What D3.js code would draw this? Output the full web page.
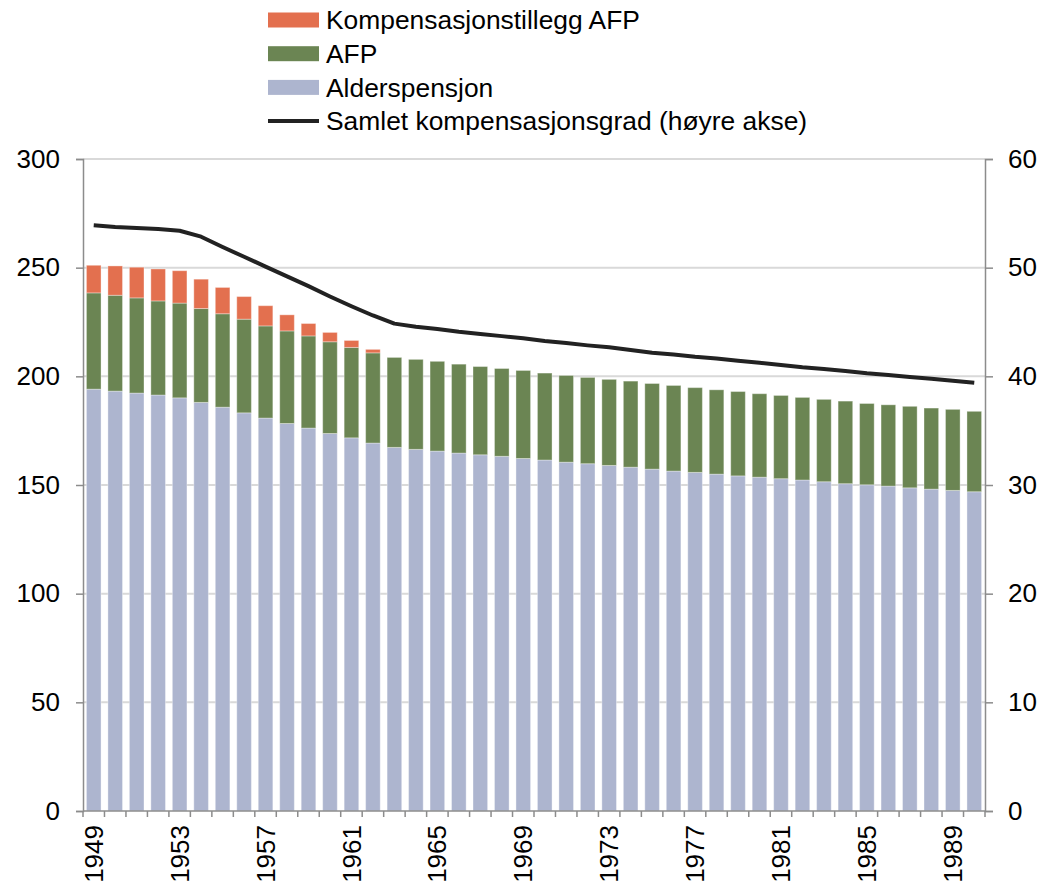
<!DOCTYPE html>
<html>
<head>
<meta charset="utf-8">
<script src="https://cdn.jsdelivr.net/npm/d3@7"></script>
<style>
  body { margin: 0; background: #fff; }
  svg { font-family: "Liberation Sans", Arial, sans-serif; }
  .axis text { font-size: 26px; fill: #000; }
  .axis path, .axis line { stroke: #8c8c8c; stroke-width: 1.5; }
</style>
</head>
<body>
<svg width="1043" height="886"></svg>
<script>
const years = d3.range(1949, 1991);
const alderspensjon = [194.1, 193.2, 192.3, 191.4, 190.1, 188.0, 185.8, 183.2, 180.8, 178.3, 176.2, 173.7, 171.7, 169.3,
  167.3, 166.4, 165.6, 164.7, 163.9, 163.2, 162.2, 161.5, 160.5, 159.8, 159.0, 158.2, 157.3, 156.4,
  155.8, 155.0, 154.2, 153.6, 152.9, 152.3, 151.5, 150.6, 150.1, 149.5, 148.7, 148.1, 147.5, 146.9];
const afp = [44.3, 44.1, 43.8, 43.3, 43.6, 43.2, 43.0, 43.1, 42.4, 42.6, 42.4, 42.2, 41.6, 41.5,
  41.4, 41.4, 41.3, 40.9, 40.6, 40.4, 40.5, 40.0, 39.9, 39.7, 39.6, 39.6, 39.4, 39.4,
  39.0, 38.8, 38.8, 38.4, 38.3, 38.0, 37.9, 38.0, 37.4, 37.4, 37.5, 37.3, 37.3, 37.0];
const kompTillegg = [12.7, 13.5, 14.1, 14.7, 14.9, 13.5, 12.1, 10.4, 9.3, 7.4, 5.7, 4.3, 3.2, 1.6,
  0, 0, 0, 0, 0, 0, 0, 0, 0, 0, 0, 0, 0, 0, 0, 0, 0, 0, 0, 0, 0, 0, 0, 0, 0, 0, 0, 0];
const kompGrad = [53.9, 53.75, 53.65, 53.55, 53.4, 52.85, 51.9, 51.0, 50.1, 49.2, 48.3, 47.35, 46.45, 45.6,
  44.85, 44.57, 44.35, 44.1, 43.9, 43.7, 43.5, 43.25, 43.07, 42.85, 42.67, 42.42, 42.17, 42.0,
  41.8, 41.65, 41.43, 41.25, 41.04, 40.83, 40.67, 40.49, 40.28, 40.12, 39.94, 39.78, 39.6, 39.41];
const leftTicks = [0, 50, 100, 150, 200, 250, 300];
const rightTicks = [0, 10, 20, 30, 40, 50, 60];
const yearLabels = years.filter(y => (y - 1949) % 4 === 0);

const svg = d3.select("svg");
const margin = { top: 159, right: 58, bottom: 75, left: 83 };
const width = +svg.attr("width") - margin.left - margin.right;
const height = +svg.attr("height") - margin.top - margin.bottom;
const g = svg.append("g").attr("transform", `translate(${margin.left},${margin.top})`);

const x = d3.scaleBand().domain(years).range([0, width]).paddingInner(0.32).paddingOuter(0.16);
const xTicks = d3.scaleBand().domain(years).range([0, width]);
const y = d3.scaleLinear().domain([0, 300]).range([height, 0]);
const y2 = d3.scaleLinear().domain([0, 60]).range([height, 0]);

const keys = ["alder", "afp", "komp"];
const color = { alder: "#adb5cf", afp: "#6b8553", komp: "#e3704f" };
const rows = years.map((yr, i) => ({ year: yr, alder: alderspensjon[i], afp: afp[i], komp: kompTillegg[i] }));
const stacked = d3.stack().keys(keys)(rows);

// gridlines
g.append("g").selectAll("line").data(leftTicks.filter(d => d > 0)).join("line")
  .attr("x1", 0).attr("x2", width)
  .attr("y1", d => y(d)).attr("y2", d => y(d))
  .attr("stroke", "#d9d9d9").attr("stroke-width", 2);

// bars
g.append("g").selectAll("g").data(stacked).join("g")
  .attr("fill", d => color[d.key])
  .selectAll("rect").data(d => d).join("rect")
  .attr("x", d => x(d.data.year))
  .attr("width", x.bandwidth())
  .attr("y", d => y(d[1]))
  .attr("height", d => Math.max(0, y(d[0]) - y(d[1])))
  .attr("stroke", "#ffffff").attr("stroke-opacity", 0.35).attr("stroke-width", 1);

// line
const line = d3.line().x((d, i) => x(years[i]) + x.bandwidth() / 2).y(d => y2(d));
g.append("path").datum(kompGrad)
  .attr("fill", "none").attr("stroke", "#222").attr("stroke-width", 4)
  .attr("stroke-linejoin", "round")
  .attr("d", line);

// axes
g.append("g").attr("class", "axis")
  .call(d3.axisLeft(y).tickValues(leftTicks).tickSize(7).tickSizeOuter(7).tickPadding(16));
g.append("g").attr("class", "axis").attr("transform", `translate(${width},0)`)
  .call(d3.axisRight(y2).tickValues(rightTicks).tickSize(8).tickSizeOuter(8).tickPadding(15));

const xAxis = g.append("g").attr("class", "axis").attr("transform", `translate(0,${height})`);
xAxis.append("line").attr("x1", 0).attr("x2", width).attr("y1", 0).attr("y2", 0)
  .attr("stroke", "#8c8c8c").attr("stroke-width", 1.5);
xAxis.selectAll(".tk").data(years.concat([1991])).join("line").attr("class", "tk")
  .attr("x1", (d, i) => i * xTicks.step()).attr("x2", (d, i) => i * xTicks.step())
  .attr("y1", 0).attr("y2", 6)
  .attr("stroke", "#8c8c8c").attr("stroke-width", 1.5);
xAxis.selectAll("text").data(yearLabels).join("text")
  .attr("transform", d => `translate(${x(d) + x.bandwidth() / 2},14) rotate(-90)`)
  .attr("text-anchor", "end").attr("dy", "0.35em")
  .text(d => d);

// legend
const legendItems = [
  { label: "Kompensasjonstillegg AFP", type: "rect", color: color.komp },
  { label: "AFP", type: "rect", color: color.afp },
  { label: "Alderspensjon", type: "rect", color: color.alder },
  { label: "Samlet kompensasjonsgrad (høyre akse)", type: "line", color: "#222" }
];
const legend = svg.append("g").attr("transform", "translate(268,20)");
const li = legend.selectAll("g").data(legendItems).join("g")
  .attr("transform", (d, i) => `translate(0,${i * 33.7})`);
li.filter(d => d.type === "rect").append("rect")
  .attr("x", 0).attr("y", -7.5).attr("width", 51).attr("height", 15).attr("fill", d => d.color);
li.filter(d => d.type === "line").append("line")
  .attr("x1", 0).attr("x2", 51).attr("y1", 0).attr("y2", 0)
  .attr("stroke", d => d.color).attr("stroke-width", 4);
li.append("text").attr("x", 58).attr("dy", "0.35em")
  .style("font-size", "26.4px").text(d => d.label);
</script>
</body>
</html>
